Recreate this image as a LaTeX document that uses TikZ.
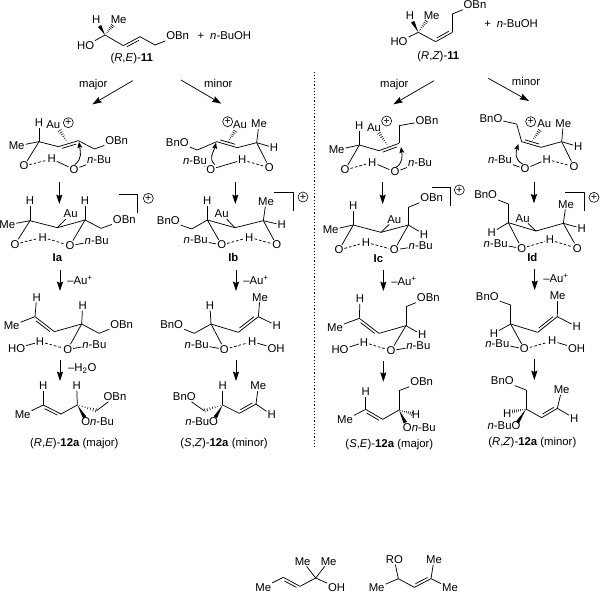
\documentclass[tikz,border=0pt]{standalone}
\usepackage{fontspec}
\setmainfont{Liberation Sans}
\usetikzlibrary{calc,arrows.meta}
\tikzset{%
    every node/.style={inner sep=.6pt, font=\fontsize{8.5}{10}\selectfont},
    bond/.style={line width=.55pt},
    hlink/.style={line width=.55pt, dash pattern=on 2pt off 1.4pt},
    chg/.style={circle, draw, line width=.45pt, minimum size=7.5pt, inner sep=0pt,
        font=\fontsize{8}{8}\selectfont},
    react/.style={line width=.55pt, -{Stealth[length=7pt,width=4.6pt,inset=1pt]}},
    curly/.style={line width=.6pt, -{Stealth[length=4.5pt,width=3.6pt,inset=.8pt]}},
    divider/.style={line width=.7pt, dash pattern=on .9pt off 1.5pt}
}
\newcommand{\dbond}[3]{\draw[bond] (#1) -- (#2) ($(#1)!.14!(#2)!#3!90:(#2)$) -- ($(#2)!.14!(#1)!#3!-90:(#1)$);}
\newcommand{\wbond}[2]{\fill (#1) -- ($(#2)!1.4pt!90:(#1)$) -- ($(#2)!1.4pt!-90:(#1)$) -- cycle;}
\newcommand{\hashb}[2]{\foreach \t in {.12,.26,...,.96}{\draw[line width=.4pt] ($(#1)!\t!(#2)!\t*1.6pt!90:(#2)$) -- ($(#1)!\t!(#2)!\t*1.6pt!-90:(#2)$);}}
\newcommand{\nbu}{\textit{n}-Bu}

\begin{document}
\begin{tikzpicture}[x=.25pt, y=-.25pt, every path/.append style={line join=round}]
  \useasboundingbox (0,0) rectangle (1800,1782);

  % divider
  \coordinate (divtop) at (944,215);
  \coordinate (divbot) at (944,1345);
  \draw[divider] (divtop) -- (divbot);

  % ---------- top left
  \begin{scope}[name prefix=a-]
  \foreach \nm/\xa/\ya/\xb/\yb in {maj/398/242/277/313, min/543/240/664/311, dna/178/547/178/612, dnb/706/547/706/612}{
    \coordinate (\nm s) at (\xa,\ya);
    \coordinate (\nm e) at (\xb,\yb);
    \draw[react] (\nm s) -- (\nm e);
  }
  \node (major) at (280,253) {major};
  \node (minor) at (655,249) {minor};
  \node (plus) at (603,108) {+};
  \node (buoh) at (692,108) {\textit{n}-BuOH};
  \node (lab) at (395,175) {(\textit{R},\textit{E})-\textbf{11}};
  \end{scope}

  \begin{scope}[name prefix=s1-]
  \coordinate (c1) at (315,105); \coordinate (c2) at (370,137);
  \coordinate (c3) at (420,110); \coordinate (c4) at (465,135);
  \coordinate (wH) at (299,78);  \coordinate (wMe) at (339,75);
  \node (H) at (289,60) {H};
  \node (Me) at (356,60) {Me};
  \node (HO) at (257,137) {HO};
  \node (OBn) at (533,108) {OBn};
  \draw[bond] (c1) edge (HO) edge (c2) (c3) edge (c4) (c4) edge (OBn);
  \dbond{c2}{c3}{-2pt}
  \wbond{c1}{wH}
  \hashb{c1}{wMe}
  \end{scope}

  \begin{scope}[name prefix=ax-]
  \coordinate (c1) at (117,425); \coordinate (c2) at (175,440);
  \coordinate (c3) at (235,422); \coordinate (c4) at (283,447);
  \coordinate (hs) at (205,431); \coordinate (he) at (178,390);
  \coordinate (cs) at (224,494); \coordinate (ce) at (237,426);
  \node (H) at (117,368) {H};
  \node (Me) at (50,438) {Me};
  \node (Au) at (160,373) {Au};
  \node[chg] (chg) at (205,368) {+};
  \node (OBn) at (350,423) {OBn};
  \node (O1) at (72,498) {O};
  \node (H2) at (155,477) {H};
  \node (O2) at (222,508) {O};
  \node (Bu) at (297,480) {\nbu};
  \draw[bond] (c1) edge (H) edge (Me) edge (c2) edge (O1) (c3) edge (c4) (c4) edge (OBn)
    (H2) edge (O2) (O2) edge (Bu);
  \draw[hlink] (O1) -- (H2);
  \dbond{c2}{c3}{-2pt}
  \hashb{hs}{he}
  \draw[curly] (cs) .. controls +(24,-18) and +(4,30) .. (ce);
  \end{scope}

  \begin{scope}[name prefix=ay-]
  \coordinate (c1) at (592,450); \coordinate (c2) at (650,425);
  \coordinate (c3) at (712,443); \coordinate (c4) at (770,428);
  \coordinate (hs) at (682,428); \coordinate (he) at (706,392);
  \coordinate (cs) at (645,494); \coordinate (ce) at (648,428);
  \node (BnO) at (532,427) {BnO};
  \node (Me) at (777,372) {Me};
  \node (H) at (822,443) {H};
  \node (Au) at (720,375) {Au};
  \node[chg] (chg) at (683,365) {+};
  \node (O1) at (808,503) {O};
  \node (H2) at (727,480) {H};
  \node (O2) at (632,508) {O};
  \node (Bu) at (585,483) {\nbu};
  \draw[bond] (BnO) edge (c1) (c1) edge (c2) (c3) edge (c4) (c4) edge (Me) edge (H) edge (O1)
    (O2) edge (H2) edge (Bu);
  \draw[hlink] (H2) -- (O1);
  \dbond{c2}{c3}{2pt}
  \hashb{hs}{he}
  \draw[curly] (cs) .. controls +(-22,-18) and +(-6,26) .. (ce);
  \end{scope}

  % ---------- top right
  \begin{scope}[shift={(900,0)},name prefix=b-]
  \foreach \nm/\xa/\ya/\xb/\yb in {maj/402/242/280/313, min/565/235/687/303, dna/248/547/248/612, dnb/702/545/702/610}{
    \coordinate (\nm s) at (\xa,\ya);
    \coordinate (\nm e) at (\xb,\yb);
    \draw[react] (\nm s) -- (\nm e);
  }
  \node (major) at (283,253) {major};
  \node (minor) at (678,243) {minor};
  \node (plus) at (563,72) {+};
  \node (buoh) at (652,72) {\textit{n}-BuOH};
  \node (lab) at (415,170) {(\textit{R},\textit{Z})-\textbf{11}};
  \end{scope}

  \begin{scope}[shift={(900,0)},name prefix=s2-]
  \coordinate (c1) at (355,97); \coordinate (c2) at (407,125);
  \coordinate (c3) at (457,97); \coordinate (c4) at (457,42);
  \coordinate (wH) at (338,65); \coordinate (wMe) at (380,62);
  \node (H) at (330,47) {H};
  \node (Me) at (395,47) {Me};
  \node (HO) at (297,125) {HO};
  \node (OBn) at (525,14) {OBn};
  \draw[bond] (c1) edge (HO) edge (c2) (c3) edge (c4) (c4) edge (OBn);
  \dbond{c2}{c3}{2pt}
  \wbond{c1}{wH}
  \hashb{c1}{wMe}
  \end{scope}

  \begin{scope}[shift={(900,0)},name prefix=bx-]
  \coordinate (c1) at (178,435); \coordinate (c2) at (237,452);
  \coordinate (c3) at (297,430); \coordinate (c4) at (297,377);
  \coordinate (hs) at (264,438); \coordinate (he) at (236,398);
  \coordinate (cs) at (287,503); \coordinate (ce) at (303,441);
  \node (H) at (178,378) {H};
  \node (Me) at (110,450) {Me};
  \node (Au) at (222,383) {Au};
  \node[chg] (chg) at (260,363) {+};
  \node (OBn) at (381,362) {OBn};
  \node (O1) at (135,510) {O};
  \node (H2) at (217,487) {H};
  \node (O2) at (285,516) {O};
  \node (Bu) at (360,488) {\nbu};
  \draw[bond] (c1) edge (H) edge (Me) edge (c2) edge (O1) (c3) edge (c4) (c4) edge (OBn)
    (H2) edge (O2) (O2) edge (Bu);
  \draw[hlink] (O1) -- (H2);
  \dbond{c2}{c3}{-2pt}
  \hashb{hs}{he}
  \draw[curly] (cs) .. controls +(22,-14) and +(4,28) .. (ce);
  \end{scope}

  \begin{scope}[shift={(900,0)},name prefix=by-]
  \coordinate (c1) at (650,372); \coordinate (c2) at (665,425);
  \coordinate (c3) at (723,442); \coordinate (c4) at (785,425);
  \coordinate (hs) at (695,425); \coordinate (he) at (720,390);
  \coordinate (cs) at (668,492); \coordinate (ce) at (655,432);
  \node (BnO) at (573,355) {BnO};
  \node (Me) at (790,370) {Me};
  \node (H) at (835,440) {H};
  \node (Au) at (733,372) {Au};
  \node[chg] (chg) at (692,365) {+};
  \node (O1) at (822,500) {O};
  \node (H2) at (740,478) {H};
  \node (O2) at (675,507) {O};
  \node (Bu) at (600,480) {\nbu};
  \draw[bond] (BnO) edge (c1) (c1) edge (c2) (c3) edge (c4) (c4) edge (Me) edge (H) edge (O1)
    (O2) edge (H2) edge (Bu);
  \draw[hlink] (H2) -- (O1);
  \dbond{c2}{c3}{2pt}
  \hashb{hs}{he}
  \draw[curly] (cs) .. controls +(-24,-12) and +(-8,26) .. (ce);
  \end{scope}

  % ---------- middle left
  \begin{scope}[shift={(0,540)},name prefix=c-]
  \foreach \nm/\xa/\ya/\xb/\yb in {p1/180/270/180/333, p2/708/270/708/333, p3/180/540/180/603, p4/708/540/708/603}{
    \coordinate (\nm s) at (\xa,\ya);
    \coordinate (\nm e) at (\xb,\yb);
    \draw[react] (\nm s) -- (\nm e);
  }
  \node (lau1) at (240,300) {--Au\textsuperscript{+}};
  \node (lau2) at (768,300) {--Au\textsuperscript{+}};
  \node (lwat) at (247,565) {--H\textsubscript{2}O};
  \node[font=\fontsize{8.5}{10}\selectfont\bfseries] (Ia) at (172,232) {Ia};
  \node[font=\fontsize{8.5}{10}\selectfont\bfseries] (Ib) at (700,232) {Ib};
  \end{scope}

  \begin{scope}[shift={(0,540)},name prefix=ia-]
  \coordinate (c1) at (90,122); \coordinate (c2) at (172,143);
  \coordinate (c3) at (255,120); \coordinate (c4) at (303,145);
  \coordinate (b1) at (357,42); \coordinate (b2) at (413,42); \coordinate (b3) at (413,98);
  \node (H1) at (90,62) {H};
  \node (Me) at (22,135) {Me};
  \node (H2) at (255,62) {H};
  \node (Au) at (212,102) {Au};
  \node (OBn) at (373,120) {OBn};
  \node (O1) at (45,193) {O};
  \node (H3) at (128,172) {H};
  \node (O2) at (210,197) {O};
  \node (Bu) at (290,182) {\nbu};
  \node[chg] (chg) at (445,55) {+};
  \draw[bond] (c1) edge (H1) edge (Me) edge (c2) edge (O1) (c2) edge (c3) edge (Au)
    (c3) edge (H2) edge (c4) edge (O2) (c4) edge (OBn) (O2) edge (Bu);
  \draw[hlink] (O1) -- (H3) (H3) -- (O2);
  \draw[bond] (b1) -- (b2) -- (b3);
  \end{scope}

  \begin{scope}[shift={(0,540)},name prefix=ib-]
  \coordinate (c1) at (575,147); \coordinate (c2) at (622,120);
  \coordinate (c3) at (705,143); \coordinate (c4) at (790,122);
  \coordinate (b1) at (823,38); \coordinate (b2) at (880,38); \coordinate (b3) at (880,93);
  \node (BnO) at (505,122) {BnO};
  \node (H1) at (622,62) {H};
  \node (Au) at (665,102) {Au};
  \node (Me) at (798,65) {Me};
  \node (H2) at (845,135) {H};
  \node (Bu) at (587,180) {\nbu};
  \node (O2) at (665,195) {O};
  \node (H3) at (748,172) {H};
  \node (O1) at (830,195) {O};
  \node[chg] (chg) at (909,51) {+};
  \draw[bond] (BnO) edge (c1) (c1) edge (c2) (c2) edge (H1) edge (c3) edge (O2)
    (c3) edge (Au) edge (c4) (c4) edge (Me) edge (H2) edge (O1) (O2) edge (Bu);
  \draw[hlink] (O2) -- (H3) (H3) -- (O1);
  \draw[bond] (b1) -- (b2) -- (b3);
  \end{scope}

  \begin{scope}[shift={(0,540)},name prefix=ea-]
  \coordinate (c1) at (105,410); \coordinate (c2) at (163,455);
  \coordinate (c3) at (245,432); \coordinate (c4) at (297,460);
  \node (H1) at (110,352) {H};
  \node (Me) at (35,437) {Me};
  \node (H2) at (248,377) {H};
  \node (OBn) at (365,433) {OBn};
  \node (HO) at (50,505) {HO};
  \node (H3) at (120,485) {H};
  \node (O) at (203,508) {O};
  \node (Bu) at (283,495) {\nbu};
  \draw[bond] (c1) edge (H1) edge (Me) (c2) edge (c3) (c3) edge (H2) edge (c4) edge (O)
    (c4) edge (OBn) (HO) edge (H3) (O) edge (Bu);
  \draw[hlink] (H3) -- (O);
  \dbond{c1}{c2}{-2pt}
  \end{scope}

  \begin{scope}[shift={(0,540)},name prefix=eb-]
  \coordinate (c1) at (583,460); \coordinate (c2) at (633,432);
  \coordinate (c3) at (715,457); \coordinate (c4) at (775,410);
  \node (BnO) at (515,433) {BnO};
  \node (H1) at (630,377) {H};
  \node (Me) at (780,352) {Me};
  \node (H2) at (830,437) {H};
  \node (Bu) at (590,493) {\nbu};
  \node (O) at (673,508) {O};
  \node (H3) at (757,485) {H};
  \node (OH) at (828,506) {OH};
  \draw[bond] (BnO) edge (c1) (c1) edge (c2) (c2) edge (H1) edge (c3) edge (O)
    (c4) edge (Me) edge (H2) (O) edge (Bu) (H3) edge (OH);
  \draw[hlink] (O) -- (H3);
  \dbond{c3}{c4}{2pt}
  \end{scope}

  % ---------- middle right
  \begin{scope}[shift={(900,540)},name prefix=d-]
  \foreach \nm/\xa/\ya/\xb/\yb in {p1/250/270/250/333, p2/704/268/704/330, p3/250/543/250/605, p4/703/537/703/600}{
    \coordinate (\nm s) at (\xa,\ya);
    \coordinate (\nm e) at (\xb,\yb);
    \draw[react] (\nm s) -- (\nm e);
  }
  \node (lau1) at (312,303) {--Au\textsuperscript{+}};
  \node (lau2) at (768,295) {--Au\textsuperscript{+}};
  \node[font=\fontsize{8.5}{10}\selectfont\bfseries] (Ic) at (235,237) {Ic};
  \node[font=\fontsize{8.5}{10}\selectfont\bfseries] (Id) at (697,233) {Id};
  \end{scope}

  \begin{scope}[shift={(900,540)},name prefix=ic-]
  \coordinate (c1) at (160,135); \coordinate (c2) at (243,157);
  \coordinate (c3) at (325,135); \coordinate (c4) at (325,82);
  \coordinate (b1) at (395,22); \coordinate (b2) at (452,22); \coordinate (b3) at (452,78);
  \node (H1) at (160,78) {H};
  \node (Me) at (92,150) {Me};
  \node (Au) at (283,118) {Au};
  \node (H2) at (372,163) {H};
  \node (OBn) at (395,53) {OBn};
  \node (O1) at (117,210) {O};
  \node (H3) at (198,187) {H};
  \node (O2) at (283,210) {O};
  \node (Bu) at (362,197) {\nbu};
  \node[chg] (chg) at (478,30) {+};
  \draw[bond] (c1) edge (H1) edge (Me) edge (c2) edge (O1) (c2) edge (Au) edge (c3)
    (c3) edge (c4) edge (H2) edge (O2) (c4) edge (OBn) (O2) edge (Bu);
  \draw[hlink] (O1) -- (H3) (H3) -- (O2);
  \draw[bond] (b1) -- (b2) -- (b3);
  \end{scope}

  \begin{scope}[shift={(900,540)},name prefix=id-]
  \coordinate (c1) at (625,72); \coordinate (c2) at (625,128);
  \coordinate (c3) at (708,153); \coordinate (c4) at (790,130);
  \coordinate (b1) at (795,38); \coordinate (b2) at (852,38); \coordinate (b3) at (852,92);
  \node (BnO) at (557,45) {BnO};
  \node (H1) at (575,158) {H};
  \node (Au) at (668,115) {Au};
  \node (Me) at (798,73) {Me};
  \node (H2) at (845,145) {H};
  \node (Bu) at (587,192) {\nbu};
  \node (O2) at (665,205) {O};
  \node (H3) at (750,180) {H};
  \node (O1) at (832,205) {O};
  \node[chg] (chg) at (882,52) {+};
  \draw[bond] (BnO) edge (c1) (c1) edge (c2) (c2) edge (H1) edge (c3) edge (O2)
    (c3) edge (Au) edge (c4) (c4) edge (Me) edge (H2) edge (O1) (O2) edge (Bu);
  \draw[hlink] (O2) -- (H3) (H3) -- (O1);
  \draw[bond] (b1) -- (b2) -- (b3);
  \end{scope}

  \begin{scope}[shift={(900,540)},name prefix=ec-]
  \coordinate (c1) at (178,415); \coordinate (c2) at (237,460);
  \coordinate (c3) at (318,437); \coordinate (c4) at (318,380);
  \node (H1) at (180,357) {H};
  \node (Me) at (105,442) {Me};
  \node (H2) at (367,465) {H};
  \node (OBn) at (385,353) {OBn};
  \node (HO) at (120,510) {HO};
  \node (H3) at (192,487) {H};
  \node (O) at (273,512) {O};
  \node (Bu) at (355,498) {\nbu};
  \draw[bond] (c1) edge (H1) edge (Me) (c2) edge (c3) (c3) edge (c4) edge (H2) edge (O)
    (c4) edge (OBn) (HO) edge (H3) (O) edge (Bu);
  \draw[hlink] (H3) -- (O);
  \dbond{c1}{c2}{-2pt}
  \end{scope}

  \begin{scope}[shift={(900,540)},name prefix=ed-]
  \coordinate (c1) at (632,375); \coordinate (c2) at (632,432);
  \coordinate (c3) at (713,457); \coordinate (c4) at (772,410);
  \node (BnO) at (562,350) {BnO};
  \node (H1) at (582,460) {H};
  \node (Me) at (773,348) {Me};
  \node (H2) at (830,440) {H};
  \node (Bu) at (592,490) {\nbu};
  \node (O) at (673,507) {O};
  \node (H3) at (757,483) {H};
  \node (OH) at (830,505) {OH};
  \draw[bond] (BnO) edge (c1) (c1) edge (c2) (c2) edge (H1) edge (c3) edge (O)
    (c4) edge (Me) edge (H2) (O) edge (Bu) (H3) edge (OH);
  \draw[hlink] (O) -- (H3);
  \dbond{c3}{c4}{2pt}
  \end{scope}

  % ---------- products
  \begin{scope}[shift={(0,1080)},name prefix=pa-]
  \coordinate (c1) at (130,135); \coordinate (c2) at (183,162);
  \coordinate (c3) at (232,135); \coordinate (c4) at (290,152);
  \coordinate (wO) at (254,172);
  \node (H1) at (130,78) {H};
  \node (Me) at (68,165) {Me};
  \node (H2) at (230,78) {H};
  \node (OBn) at (345,110) {OBn};
  \node (OBu) at (293,185) {O\nbu};
  \node (lab) at (223,250) {(\textit{R},\textit{E})-\textbf{12a} (major)};
  \draw[bond] (c1) edge (H1) edge (Me) (c2) edge (c3) (c3) edge (H2) (c4) edge (OBn);
  \dbond{c1}{c2}{-2pt}
  \hashb{c3}{c4}
  \wbond{c3}{wO}
  \end{scope}

  \begin{scope}[shift={(0,1080)},name prefix=pb-]
  \coordinate (c1) at (612,152); \coordinate (c2) at (668,135);
  \coordinate (c3) at (718,160); \coordinate (c4) at (768,132);
  \coordinate (wO) at (646,172);
  \node (BnO) at (553,110) {BnO};
  \node (H1) at (668,78) {H};
  \node (Me) at (775,78) {Me};
  \node (H2) at (815,165) {H};
  \node (OBu) at (605,185) {\nbu O};
  \node (lab) at (672,250) {(\textit{S},\textit{Z})-\textbf{12a} (minor)};
  \draw[bond] (BnO) edge (c1) (c2) edge (H1) edge (c3) (c4) edge (Me) edge (H2);
  \dbond{c3}{c4}{2pt}
  \hashb{c2}{c1}
  \wbond{c2}{wO}
  \end{scope}

  \begin{scope}[shift={(900,1080)},name prefix=pc-]
  \coordinate (c1) at (197,148); \coordinate (c2) at (248,178);
  \coordinate (c3) at (297,150); \coordinate (c4) at (297,92);
  \coordinate (wO) at (316,188); \coordinate (wH) at (338,162);
  \node (H1) at (197,95) {H};
  \node (Me) at (135,180) {Me};
  \node (OBn) at (365,66) {OBn};
  \node (H2) at (348,165) {H};
  \node (OBu) at (358,202) {O\nbu};
  \node (lab) at (268,253) {(\textit{S},\textit{E})-\textbf{12a} (major)};
  \draw[bond] (c1) edge (H1) edge (Me) (c2) edge (c3) (c3) edge (c4) (c4) edge (OBn);
  \dbond{c1}{c2}{-2pt}
  \hashb{c3}{wH}
  \wbond{c3}{wO}
  \end{scope}

  \begin{scope}[shift={(900,1080)},name prefix=pd-]
  \coordinate (c1) at (678,90); \coordinate (c2) at (678,147);
  \coordinate (c3) at (725,173); \coordinate (c4) at (772,145);
  \coordinate (wO) at (652,188); \coordinate (wH) at (636,155);
  \node (BnO) at (607,62) {BnO};
  \node (H1) at (622,160) {H};
  \node (Me) at (785,90) {Me};
  \node (H2) at (823,175) {H};
  \node (OBu) at (612,197) {\nbu O};
  \node (lab) at (697,248) {(\textit{R},\textit{Z})-\textbf{12a} (minor)};
  \draw[bond] (BnO) edge (c1) (c1) edge (c2) (c2) edge (c3) (c4) edge (Me) edge (H2);
  \dbond{c3}{c4}{2pt}
  \hashb{c2}{wH}
  \wbond{c2}{wO}
  \end{scope}

  % ---------- bottom row
  \begin{scope}[shift={(690,1584)},name prefix=g-]
  \coordinate (c1) at (160,148); \coordinate (c2) at (210,175);
  \coordinate (c3) at (257,150);
  \node (Me1) at (100,178) {Me};
  \node (Me2) at (218,100) {Me};
  \node (Me3) at (296,100) {Me};
  \node (OH) at (320,178) {OH};
  \draw[bond] (Me1) edge (c1) (c2) edge (c3) (c3) edge (Me2) edge (Me3) edge (OH);
  \dbond{c1}{c2}{-2pt}
  \end{scope}

  \begin{scope}[shift={(1050,1584)},name prefix=h-]
  \coordinate (c1) at (145,152); \coordinate (c2) at (193,178);
  \coordinate (c3) at (243,152);
  \node (RO) at (133,95) {RO};
  \node (Me1) at (80,180) {Me};
  \node (Me2) at (252,95) {Me};
  \node (Me3) at (300,180) {Me};
  \draw[bond] (c1) edge (RO) edge (Me1) edge (c2) (c3) edge (Me2) edge (Me3);
  \dbond{c2}{c3}{2pt}
  \end{scope}
\end{tikzpicture}
\end{document}
